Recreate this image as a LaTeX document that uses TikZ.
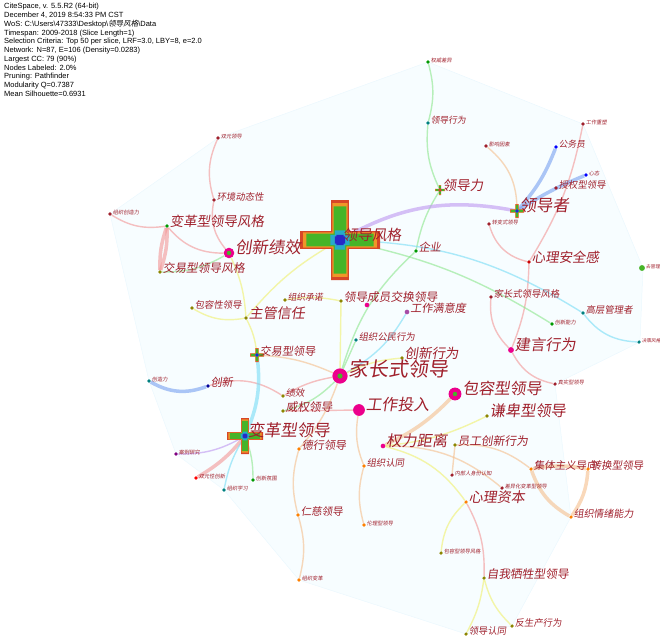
\documentclass[tikz,border=0pt]{standalone}
\usepackage{fontspec}
\setmainfont{Liberation Sans}
\newfontfamily\cjk[FakeSlant=0.15]{Noto Sans CJK SC}
\usetikzlibrary{positioning}
\pgfdeclarelayer{bg}
\pgfsetlayers{bg,main}

\definecolor{labred}{RGB}{160,32,44}
\definecolor{ePink}{RGB}{242,150,150}
\definecolor{eGreen}{RGB}{140,230,140}
\definecolor{eYellow}{RGB}{240,240,110}
\definecolor{eCyan}{RGB}{120,220,245}
\definecolor{eBlue}{RGB}{120,160,240}
\definecolor{ePurple}{RGB}{190,150,240}
\definecolor{eOrange}{RGB}{245,190,140}
\definecolor{crR}{RGB}{215,70,40}
\definecolor{crO}{RGB}{240,150,40}
\definecolor{crG}{RGB}{70,180,40}
\definecolor{crC}{RGB}{40,170,200}
\definecolor{crB}{RGB}{40,40,200}

% 引文年轮(十字形)
\newcommand\ringcross[2]{%
  \begin{scope}[shift={#1}, scale=#2]
    \foreach \c/\a/\w in {crR/10/2.2, crO/9.2/1.9, crG/8.4/1.6, crC/2.4/1.3, crB/1.3/0.9}
      \fill[\c] (-\w,-\a) -- (\w,-\a) -- (\w,-\w) -- (\a,-\w) -- (\a,\w) -- (\w,\w)
        -- (\w,\a) -- (-\w,\a) -- (-\w,\w) -- (-\a,\w) -- (-\a,-\w) -- (-\w,-\w) -- cycle;
  \end{scope}}

\begin{document}
\begin{tikzpicture}[
        x=0.03cm, y=-0.03cm,
        dot/.style={circle, fill=#1, inner sep=0pt, minimum size=3pt},
        dot/.default=labred,
        hub/.style={circle, fill=magenta, inner sep=0pt, minimum size=#1},
        lbl/.style={text=labred, font=\cjk\fontsize{#1}{#1}\selectfont, inner sep=0.5pt, anchor=base west},
        edge/.style={draw=#1, line width=1.2pt, opacity=.6},
        fat/.style={line width=3pt}
    ]
        \useasboundingbox (0,0) rectangle (660,637);

        % 图谱信息
        \node[anchor=north west, align=left, inner sep=0pt,
              font=\fontsize{6.4}{7.5}\selectfont] (info) at (4,3)
            {CiteSpace, v. 5.5.R2 (64-bit)\\
             December 4, 2019 8:54:33 PM CST\\
             WoS: C:\textbackslash Users\textbackslash 47333\textbackslash Desktop\textbackslash {\cjk 领导风格}\textbackslash Data\\
             Timespan: 2009-2018 (Slice Length=1)\\
             Selection Criteria: Top 50 per slice, LRF=3.0, LBY=8, e=2.0\\
             Network: N=87, E=106 (Density=0.0283)\\
             Largest CC: 79 (90\%)\\
             Nodes Labeled: 2.0\%\\
             Pruning: Pathfinder\\
             Modularity Q=0.7387\\
             Mean Silhouette=0.6931};

        % 年轮
        \ringcross{(340,240)}{4}
        \ringcross{(245,436)}{1.8}
        \ringcross{(257,355)}{0.7}
        \ringcross{(517,211)}{0.7}
        \ringcross{(440,190)}{0.5}

        % 关键词节点
        \path
            (218,138) node[dot, label={[lbl=4.5]east:双元领导}] (syld) {}
            (214,200) node[dot, label={[lbl=8]east:环境动态性}] (hjdt) {}
            (110,214) node[dot, label={[lbl=4.5]east:组织创造力}] (zzcz) {}
            (167,226) node[dot=green!60!black, label={[lbl=11.5]east:变革型领导风格}] (bgfg) {}
            (229,253) node[hub=9pt, label={[lbl=14]east:创新绩效}] (cxjx) {}
            (160,272) node[dot=olive, label={[lbl=10]east:交易型领导风格}] (jyfg) {}
            (340,240) node[dot=crB, label={[lbl=12.5]east:领导风格}] (ldfg) {}
            (428,62)  node[dot=green!60!black, label={[lbl=4.5]east:权威差异}] (qwcy) {}
            (428,123) node[dot=teal, label={[lbl=7.5]east:领导行为}] (ldxw) {}
            (440,190) node[dot=crR, label={[lbl=11.5]east:领导力}] (ldl) {}
            (486,146) node[dot, label={[lbl=4.5]east:影响因素}] (yxys) {}
            (517,211) node[dot=crB, label={[lbl=14]east:领导者}] (ldz) {}
            (556,147) node[dot=blue, label={[lbl=7.5]east:公务员}] (gwy) {}
            (583,124) node[dot, label={[lbl=4.5]east:工作重塑}] (gzcs) {}
            (586,175) node[dot=blue, label={[lbl=4.5]east:心态}] (xt) {}
            (556,188) node[dot, label={[lbl=8]east:授权型领导}] (sqld) {}
            (489,224) node[dot, label={[lbl=4.5]east:转变式领导}] (zbld) {}
            (529,262) node[dot=red!80!black, label={[lbl=11.5]east:心理安全感}] (xlaq) {}
            (416,251) node[dot=green!60!black, label={[lbl=9.5]east:企业}] (qy) {}
            (642,268) node[hub=5pt, fill=crG, label={[lbl=4]east:去管理}] (qgl) {}
            (491,297) node[dot, label={[lbl=8]east:家长式领导风格}] (jzfg) {}
            (583,313) node[dot=teal, label={[lbl=8]east:高层管理者}] (gcgl) {}
            (552,324) node[dot=green!60!black, label={[lbl=4.5]east:创新能力}] (cxnl) {}
            (639,342) node[dot=teal, label={[lbl=4]east:决策风格}] (jcfg) {}
            (511,350) node[hub=5pt, label={[lbl=13]east:建言行为}] (jyxw) {}
            (555,384) node[dot, label={[lbl=4.5]east:真实型领导}] (zsld) {}
            (341,301) node[dot=olive, label={[lbl=10]east:领导成员交换领导}] (lmx) {}
            (367,305) node[hub=4pt] (cyjh) {}
            (407,312) node[hub=4pt, fill=violet!70, label={[lbl=9.5]east:工作满意度}] (gzmy) {}
            (285,300) node[dot=olive, label={[lbl=7.5]east:组织承诺}] (zzcn) {}
            (192,308) node[dot=olive, label={[lbl=8]east:包容性领导}] (bxxl) {}
            (246,318) node[dot=olive, label={[lbl=12]east:主管信任}] (zgxr) {}
            (356,340) node[dot=teal, label={[lbl=8]east:组织公民行为}] (zzgm) {}
            (257,355) node[dot=crB, label={[lbl=9.5]east:交易型领导}] (jyld) {}
            (402,358) node[dot=olive, label={[lbl=11.5]east:创新行为}] (cxxw) {}
            (340,376) node[hub=13pt, label={[lbl=17]east:家长式领导}] (jzs) {}
            (455,394) node[hub=11pt, label={[lbl=13.5]east:包容型领导}] (bryl) {}
            (359,410) node[hub=10pt, label={[lbl=13.5]east:工作投入}] (gztr) {}
            (149,381) node[dot=teal, label={[lbl=4.5]east:创造力}] (czl) {}
            (208,386) node[dot=blue!60!black, label={[lbl=9.5]east:创新}] (cx) {}
            (283,396) node[dot=olive, label={[lbl=8]east:绩效}] (jx) {}
            (283,411) node[dot=olive, label={[lbl=10]east:威权领导}] (wqld) {}
            (245,436) node[dot=crB, label={[lbl=14]east:变革型领导}] (bgld) {}
            (299,449) node[dot=orange, label={[lbl=9.5]east:德行领导}] (dxld) {}
            (487,416) node[dot=olive, label={[lbl=13]east:谦卑型领导}] (qbld) {}
            (383,446) node[hub=4pt, label={[lbl=13]east:权力距离}] (qljl) {}
            (455,445) node[dot=olive, label={[lbl=10]east:员工创新行为}] (ygcx) {}
            (176,454) node[dot=violet, label={[lbl=4.5]east:案例研究}] (alyj) {}
            (364,466) node[dot=orange, label={[lbl=8]east:组织认同}] (zzrt) {}
            (531,469) node[dot=orange, label={[lbl=9]east:集体主义导向}] (jtzy) {}
            (588,469) node[dot=orange, label={[lbl=9]east:转换型领导}] (zhld) {}
            (452,475) node[dot, label={[lbl=4.5]east:内部人身份认知}] (nbrs) {}
            (196,478) node[dot=red, label={[lbl=4.5]east:双元性创新}] (sycx) {}
            (253,480) node[dot=green!60!black, label={[lbl=4.5]east:创新氛围}] (cxfw) {}
            (224,490) node[dot=teal, label={[lbl=4.5]east:组织学习}] (zzxx) {}
            (502,488) node[dot, label={[lbl=4.5]east:差异化变革型领导}] (cyhb) {}
            (466,502) node[dot=orange, label={[lbl=12]east:心理资本}] (xlzb) {}
            (571,517) node[dot=orange, label={[lbl=8.5]east:组织情绪能力}] (zzqx) {}
            (298,515) node[dot=orange, label={[lbl=9]east:仁慈领导}] (rcld) {}
            (364,525) node[dot=orange, label={[lbl=4.5]east:伦理型领导}] (llld) {}
            (441,553) node[dot=olive, label={[lbl=4.5]east:包容型领导风格}] (bryfg) {}
            (484,578) node[dot=olive, label={[lbl=10]east:自我牺牲型领导}] (zwxs) {}
            (299,580) node[dot=orange, label={[lbl=4.5]east:组织变革}] (zzbg) {}
            (466,634) node[dot=olive, label={[lbl=8]east:领导认同}] (ldrt) {}
            (512,626) node[dot=olive, label={[lbl=8]east:反生产行为}] (fscx) {};

        \fill[crG] (cxjx) circle (2.2) (jzs) circle (2.6) (bryl) circle (2.2);

        \begin{pgfonlayer}{bg}
        % 聚类背景
        \fill[cyan!3, draw=cyan!8] (110,214) -- (218,138) -- (428,62) -- (583,124)
            -- (643,268) -- (640,342) -- (555,384) -- (571,517) -- (512,626)
            -- (466,634) -- (299,580) -- (224,490) -- (176,454) -- (149,381) -- cycle;

        % 共现连线
        \draw[edge=ePink] (syld) to[bend right=20] (hjdt);
        \draw[edge=ePink] (hjdt) to[bend right=25] (cxjx);
        \draw[edge=ePink] (zzcz) to[bend right=20] (bgfg);
        \draw[edge=ePink] (bgfg) to[bend right=25] (cxjx);
        \draw[edge=ePink, fat] (bgfg) to[bend right=10] (jyfg);
        \draw[edge=ePink, fat] (bgfg) to[bend left=10] (jyfg);
        \draw[edge=ePink] (cx) to[bend left=25] (jx);
        \draw[edge=ePink] (jx) to[bend left=10] (jzs);
        \draw[edge=ePink] (gztr) -- (wqld);
        \draw[edge=ePink] (gzcs) to[bend left=10] (xlaq);
        \draw[edge=ePink] (zbld) to[bend right=30] (xlaq);
        \draw[edge=ePink] (xlaq) to[bend left=10] (jyxw);
        \draw[edge=ePink] (jzfg) to[bend right=25] (jyxw);
        \draw[edge=ePink] (jyxw) to[bend right=25] (zsld);
        \draw[edge=ePink] (xlzb) to[bend left=15] (zwxs);
        \draw[edge=ePink, fat] (bgld) to[bend left=10] (sycx);

        \draw[edge=eGreen] (qwcy) to[bend left=15] (ldxw);
        \draw[edge=eGreen] (ldxw) to[bend right=15] (ldl);
        \draw[edge=eGreen] (ldl) to[bend right=10] (qy);
        \draw[edge=eGreen] (qy) to[bend right=15] (jzs);
        \draw[edge=eGreen] (ldfg) to[bend left=10] (cxnl);
        \draw[edge=eGreen] (jyfg) to[bend right=15] (cxjx);
        \draw[edge=eGreen] (jzs) -- (zzgm);
        \draw[edge=eGreen] (jzs) to[bend left=15] (wqld);
        \draw[edge=eGreen] (bgld) to[bend left=10] (cxfw);

        \draw[edge=eCyan] (ldfg) to[bend left=15] (gcgl);
        \draw[edge=eCyan] (gcgl) to[bend right=25] (jcfg);
        \draw[edge=eCyan, fat] (jyld) to[bend left=15] (bgld);
        \draw[edge=eCyan] (bgld) to[bend right=10] (zzxx);
        \draw[edge=eCyan] (jzs) to[bend right=15] (gzmy);

        \draw[edge=eBlue, fat] (ldz) to[bend right=10] (gwy);
        \draw[edge=eBlue, fat] (ldz) to[bend left=5] (xt);
        \draw[edge=eBlue, fat] (czl) to[bend right=25] (cx);

        \draw[edge=ePurple, fat] (ldfg) to[bend left=20] (ldz);
        \draw[edge=ePurple] (bgld) to[bend left=15] (alyj);

        \draw[edge=eOrange] (yxys) to[bend left=25] (ldz);
        \draw[edge=eOrange] (jzs) to[bend left=10] (dxld);
        \draw[edge=eOrange] (dxld) to[bend right=15] (rcld);
        \draw[edge=eOrange] (rcld) to[bend left=15] (zzbg);
        \draw[edge=eOrange] (gztr) to[bend right=15] (zzrt);
        \draw[edge=eOrange] (zzrt) to[bend right=15] (llld);
        \draw[edge=eOrange, fat] (bryl) to[bend left=10] (qljl);
        \draw[edge=eOrange] (ygcx) to[bend left=20] (jtzy);
        \draw[edge=eOrange, fat] (jtzy) to[bend left=10] (zhld);
        \draw[edge=eOrange, fat] (zhld) to[bend left=15] (zzqx);
        \draw[edge=eOrange, fat] (jtzy) to[bend right=20] (zzqx);
        \draw[edge=eOrange] (ygcx) -- (nbrs);
        \draw[edge=eOrange] (qljl) to[bend left=20] (cyhb);
        \draw[edge=eOrange] (jyld) to[bend left=10] (jzs);

        \draw[edge=eYellow] (cxjx) to[bend left=10] (zgxr);
        \draw[edge=eYellow] (bxxl) to[bend right=20] (zgxr);
        \draw[edge=eYellow] (zgxr) to[bend left=10] (jyld);
        \draw[edge=eYellow] (ldfg) to[bend right=10] (zgxr);
        \draw[edge=eYellow] (lmx) -- (jzs);
        \draw[edge=eYellow] (zzcn) to[bend left=10] (lmx);
        \draw[edge=eYellow] (jzs) to[bend left=10] (cxxw);
        \draw[edge=eYellow] (qljl) to[bend left=20] (xlzb);
        \draw[edge=eYellow] (qbld) to[bend left=10] (qljl);
        \draw[edge=eYellow] (xlzb) to[bend right=20] (bryfg);
        \draw[edge=eYellow] (zwxs) to[bend left=10] (ldrt);
        \draw[edge=eYellow] (zwxs) to[bend right=15] (fscx);
        \end{pgfonlayer}
    \end{tikzpicture}
\end{document}
